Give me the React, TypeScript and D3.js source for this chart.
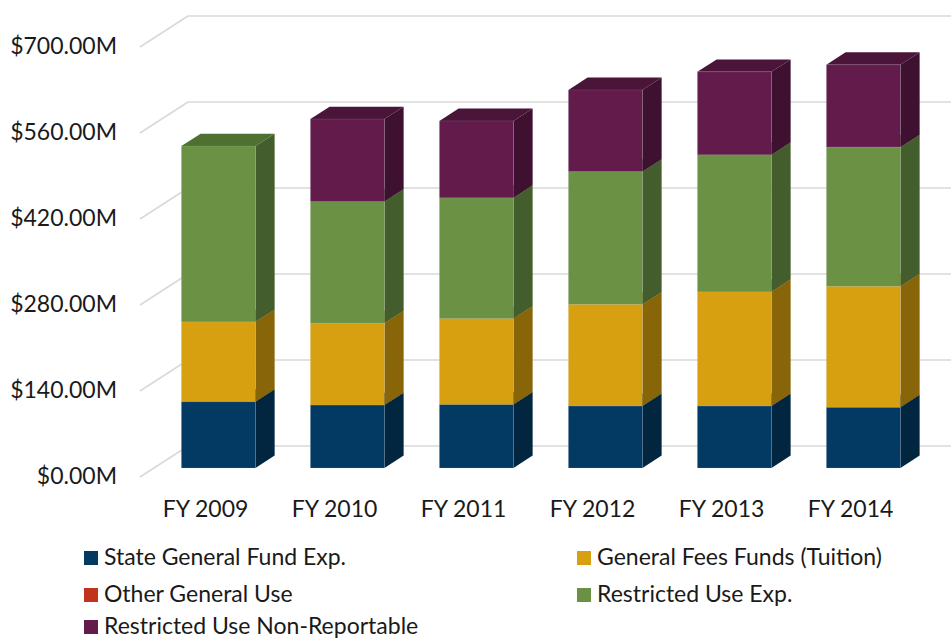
import React from "react";
import * as d3 from "d3";

const categories = ["FY 2009", "FY 2010", "FY 2011", "FY 2012", "FY 2013", "FY 2014"];
const stateGeneralFund = [108, 102.5, 103.5, 101, 101, 99];
const generalFees = [130, 133.5, 140, 165.5, 186, 197];
const otherGeneralUse = [0, 0, 0, 0, 0, 0];
const restrictedUse = [286, 198, 196.5, 216, 223, 226.5];
const restrictedNonReportable = [0, 134, 125, 133, 135, 134];
const yTicks = [0, 140, 280, 420, 560, 700];

const seriesNames = [
  "State General Fund Exp.",
  "General Fees Funds (Tuition)",
  "Other General Use",
  "Restricted Use Exp.",
  "Restricted Use Non-Reportable",
];
const seriesValues = [stateGeneralFund, generalFees, otherGeneralUse, restrictedUse, restrictedNonReportable];
const seriesColors = [
  { front: "#033A64", side: "#02263F", top: "#022E50" },
  { front: "#D6A010", side: "#886508", top: "#A07A0C" },
  { front: "#C0341D", side: "#7E2213", top: "#962816" },
  { front: "#6A9144", side: "#435E2C", top: "#4E7132" },
  { front: "#621B4B", side: "#3E1130", top: "#4A1538" },
];

const W = 951;
const H = 641;
const DX = 48;
const DY = 31;
const Z0 = 0.29;
const Z1 = 0.69;
const FONT = "Lato, 'Open Sans', sans-serif";
const FS = 23;

export default function App() {
  const x = d3.scaleBand<string>().domain(categories).range([140, 914]).paddingInner(0.426).paddingOuter(0.213);
  const y = d3.scaleLinear().domain([0, 700]).range([477, 47]);
  const proj = (px: number, v: number, z: number): [number, number] => [px + z * DX, y(v) - z * DY];
  const pts = (arr: [number, number][]) => arr.map((p) => p.join(",")).join(" ");

  const stacked = d3.stack<number>().keys(seriesNames.map((_, i) => String(i))).value((d, k) => seriesValues[+k][d])(
    categories.map((_, i) => i)
  );

  const bars: JSX.Element[] = [];
  categories.forEach((cat, ci) => {
    const x0 = x(cat)!;
    const x1 = x0 + x.bandwidth();
    stacked.forEach((layer, si) => {
      const [v0, v1] = layer[ci];
      if (v1 - v0 <= 0) return;
      const c = seriesColors[si];
      const fbl = proj(x0, v0, Z0), fbr = proj(x1, v0, Z0), ftr = proj(x1, v1, Z0), ftl = proj(x0, v1, Z0);
      const bbr = proj(x1, v0, Z1), btr = proj(x1, v1, Z1), btl = proj(x0, v1, Z1);
      bars.push(
        <g key={`${ci}-${si}`}>
          <polygon points={pts([fbr, bbr, btr, ftr])} fill={c.side} />
          <polygon points={pts([ftl, ftr, btr, btl])} fill={c.top} />
          <polygon points={pts([fbl, fbr, ftr, ftl])} fill={c.front} stroke="rgba(200,210,220,0.3)" strokeWidth={0.5} />
        </g>
      );
    });
  });

  const legendItems = [
    { i: 0, x: 84, y: 558 },
    { i: 1, x: 577, y: 558 },
    { i: 2, x: 84, y: 595 },
    { i: 3, x: 577, y: 595 },
    { i: 4, x: 84, y: 627 },
  ];

  return (
    <svg width={W} height={H} style={{ position: "absolute", left: 0, top: 0 }} fontFamily={FONT}>
      <rect width={W} height={H} fill="#fff" />
      {yTicks.map((t) => {
        const a = proj(140, t, 0);
        const b = proj(140, t, 1);
        return (
          <g key={t}>
            <line x1={a[0]} y1={a[1]} x2={b[0]} y2={b[1]} stroke="#d9d9d9" strokeWidth={1.6} />
            <line x1={b[0]} y1={b[1]} x2={W + 20} y2={b[1]} stroke="#d9d9d9" strokeWidth={1.6} />
            <text x={117} y={a[1] + 1} textAnchor="end" dominantBaseline="middle" fontSize={FS} fill="#1a1a1a">
              {`$${t.toFixed(2)}M`}
            </text>
          </g>
        );
      })}
      {bars}
      {categories.map((cat) => (
        <text key={cat} x={x(cat)! + x.bandwidth() / 2 + 1} y={511} textAnchor="middle" dominantBaseline="middle" fontSize={FS} fill="#1a1a1a">
          {cat}
        </text>
      ))}
      {legendItems.map((it) => (
        <g key={it.i}>
          <rect x={it.x} y={it.y - 7} width={14} height={14} fill={seriesColors[it.i].front} />
          <text x={it.x + 20} y={it.y + 1} dominantBaseline="middle" fontSize={FS} fill="#1a1a1a">
            {seriesNames[it.i]}
          </text>
        </g>
      ))}
    </svg>
  );
}
